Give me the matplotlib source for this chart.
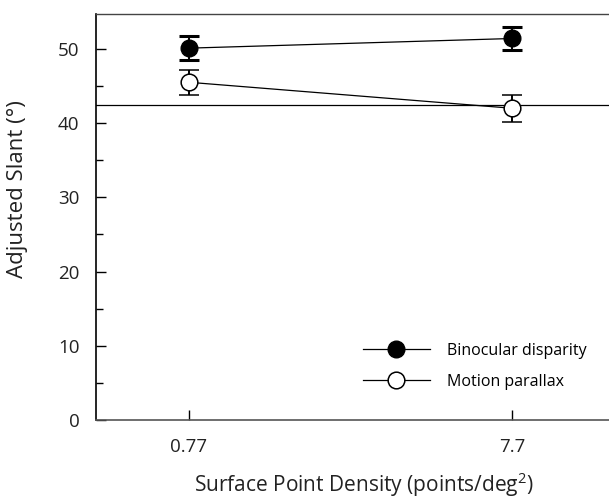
import matplotlib
matplotlib.use('Agg')
import matplotlib.pyplot as plt
from matplotlib.ticker import MultipleLocator

# Adjusted slant per density condition (mean +/- SE)
densities = ['0.77', '7.7']
binocular_mean = [50.1, 51.4]
binocular_err = [1.6, 1.5]
motion_mean = [45.5, 42.0]
motion_err = [1.65, 1.8]
reference_slant = 42.4

plt.rcParams['font.family'] = ['Open Sans', 'DejaVu Sans']
plt.rcParams['mathtext.fontset'] = 'custom'
plt.rcParams['mathtext.rm'] = 'Open Sans'

fig = plt.figure(figsize=(6.09, 5.0), dpi=100)
ax = fig.add_axes([0.1576, 0.16, 0.8424, 0.812])

x = list(range(len(densities)))

ax.axhline(reference_slant, color='black', linewidth=0.9, zorder=1)

ax.errorbar(x, binocular_mean, yerr=binocular_err, fmt='-o', color='black',
            markerfacecolor='black', markeredgecolor='black', markersize=12,
            linewidth=0.9, elinewidth=1.4, capsize=7, capthick=2.2,
            label='Binocular disparity', zorder=3)
ax.errorbar(x, motion_mean, yerr=motion_err, fmt='-o', color='black',
            markerfacecolor='white', markeredgecolor='black', markersize=12,
            markeredgewidth=1.1, linewidth=0.9, elinewidth=1.4, capsize=7,
            capthick=2.2, label='Motion parallax', zorder=3)

ax.set_xlim(-0.288, 1.30)
ax.set_ylim(0, 54.7)
ax.set_xticks(x)
ax.set_xticklabels(densities)
ax.yaxis.set_major_locator(MultipleLocator(10))
ax.yaxis.set_minor_locator(MultipleLocator(5))

ax.tick_params(axis='both', which='major', direction='in', length=7,
               width=1, labelsize=13.5, colors='black', labelcolor='#222222')
ax.tick_params(axis='x', pad=13)
ax.tick_params(axis='y', pad=12)
ax.tick_params(axis='y', which='minor', direction='in', length=5, width=1)

ax.spines['right'].set_visible(False)
ax.spines['left'].set_linewidth(1.2)
ax.spines['top'].set_linewidth(1.0)
ax.spines['top'].set_color('#444444')
ax.spines['bottom'].set_linewidth(1.2)
ax.spines['bottom'].set_color('#555555')

ax.set_ylabel('Adjusted Slant (°)', fontsize=16, color='#222222')
ax.set_xlabel('Surface Point Density (points/deg$^2$)', fontsize=15,
              color='#222222')
ax.yaxis.set_label_coords(-0.133, 0.57)
ax.xaxis.set_label_coords(0.523, -0.124)

handles, labels = ax.get_legend_handles_labels()
handles = [h[0] for h in handles]
ax.legend(handles, labels, loc='center left', bbox_to_anchor=(0.492, 0.132),
          frameon=False, fontsize=11.5, handlelength=4.2, handletextpad=1.1,
          labelspacing=0.95)

fig.savefig('out.png', dpi=100)
